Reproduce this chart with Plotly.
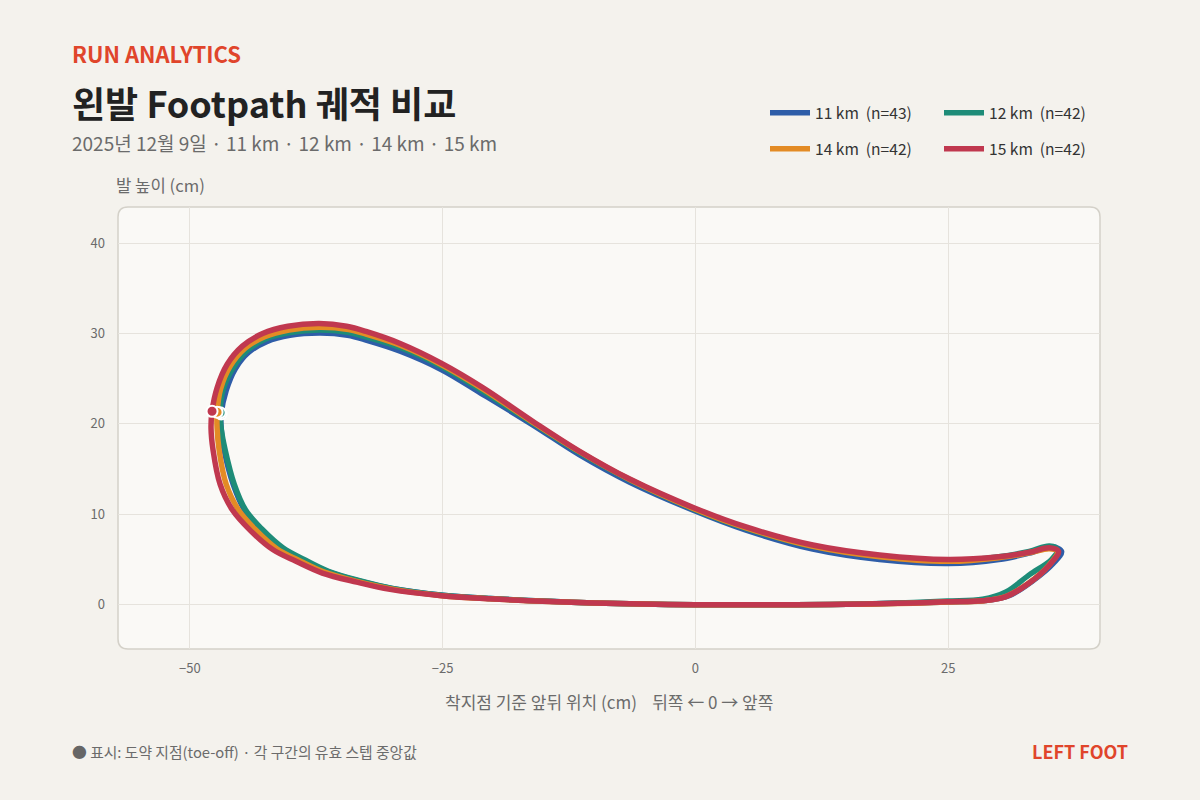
import plotly.graph_objects as go

# ---- data (cm) ----
labels = ["11 km", "12 km", "14 km", "15 km"]
counts = [43, 42, 42, 42]
colors = ["#2E5DA8", "#1E8C78", "#E38B25", "#C0384F"]

x_11 = [-46.9, -46.4, -45.5, -44.2, -42.4, -40.1, -37.1, -34.4, -32.5, -29.2, -25.1,
        -21.0, -16.1, -11.5, -6.5, -0.1, 5.0, 11.6, 18.2, 25.0, 30.0, 33.0, 35.3, 36.2,
        35.4, 33.3, 31.0, 28.6, 25.0, 20.0, 15.0, 10.0, 0.0, -10.0, -20.3, -25.0,
        -30.0, -33.2, -36.3, -38.8, -40.9, -43.0, -44.6, -45.7, -46.6, -46.9, -46.9]
y_11 = [21.1, 23.7, 26.1, 27.9, 29.1, 29.8, 30.05, 29.8, 29.25, 28.05, 26.0,
        23.25, 19.9, 16.6, 13.55, 10.4, 8.25, 6.15, 5.0, 4.55, 5.0, 5.7, 6.4, 5.9,
        4.6, 2.6, 1.0, 0.45, 0.3, 0.15, 0.05, 0.0, 0.0, 0.2, 0.68, 1.05,
        1.8, 2.6, 3.65, 4.95, 6.25, 8.35, 10.5, 13.3, 17.1, 19.5, 21.1]

x_12 = [-47.0, -46.7, -45.7, -44.35, -42.5, -40.1, -37.2, -34.4, -32.5, -29.2, -25.1,
        -21.0, -16.1, -11.5, -6.5, -0.1, 5.0, 11.6, 18.2, 25.0, 30.0, 33.0, 35.0, 35.8,
        35.2, 33.0, 30.7, 28.4, 24.9, 20.0, 15.0, 10.0, 0.0, -10.0, -20.3, -25.0,
        -30.0, -33.2, -36.3, -38.7, -40.8, -42.9, -44.5, -45.6, -46.5, -46.9, -47.0]
y_12 = [21.25, 23.8, 26.25, 28.1, 29.4, 30.1, 30.4, 30.15, 29.6, 28.45, 26.35,
        23.6, 20.1, 16.85, 13.8, 10.55, 8.45, 6.45, 5.35, 4.85, 5.3, 5.9, 6.5, 6.1,
        5.0, 3.3, 1.4, 0.6, 0.4, 0.2, 0.05, 0.0, 0.0, 0.2, 0.68, 1.05,
        1.8, 2.65, 3.7, 5.0, 6.3, 8.4, 10.5, 13.3, 17.1, 19.5, 21.25]

x_14 = [-47.3, -46.95, -46.0, -44.55, -42.6, -40.2, -37.2, -34.3, -32.5, -29.2, -25.1,
        -21.0, -16.1, -11.5, -6.5, -0.1, 5.0, 11.6, 18.2, 25.0, 30.0, 33.0, 35.0, 35.8,
        34.9, 32.9, 30.6, 28.3, 24.9, 20.0, 15.0, 10.0, 0.0, -10.0, -20.4, -25.1,
        -30.1, -33.4, -36.7, -39.2, -41.4, -43.5, -45.2, -46.4, -47.1, -47.3, -47.3]
y_14 = [21.3, 23.9, 26.4, 28.35, 29.65, 30.4, 30.7, 30.45, 29.9, 28.7, 26.55,
        23.85, 20.2, 16.95, 13.85, 10.6, 8.5, 6.45, 5.3, 4.8, 5.2, 5.75, 6.2, 5.9,
        4.3, 2.35, 0.88, 0.42, 0.3, 0.12, 0.04, 0.0, 0.0, 0.2, 0.66, 1.0,
        1.75, 2.55, 3.6, 4.9, 6.2, 8.3, 10.5, 13.3, 17.1, 19.5, 21.3]

x_15 = [-47.8, -47.3, -46.3, -44.8, -42.8, -40.3, -37.2, -34.5, -32.5, -29.2, -25.1,
        -21.0, -16.1, -11.5, -6.5, -0.1, 5.0, 11.6, 18.2, 25.0, 30.0, 33.0, 35.0, 35.9,
        35.0, 33.0, 30.7, 28.4, 24.9, 20.0, 15.0, 10.0, 0.0, -10.0, -20.4, -25.1,
        -30.2, -33.5, -36.9, -39.5, -41.8, -44.0, -45.8, -47.0, -47.7, -47.9, -47.8]
y_15 = [21.4, 24.0, 26.6, 28.6, 30.0, 30.8, 31.1, 30.8, 30.2, 28.9, 26.7,
        24.0, 20.3, 17.0, 13.9, 10.7, 8.6, 6.6, 5.5, 5.0, 5.3, 5.8, 6.3, 5.9,
        4.4, 2.4, 0.9, 0.44, 0.33, 0.15, 0.05, 0.0, 0.0, 0.2, 0.66, 1.0,
        1.7, 2.5, 3.5, 4.8, 6.1, 8.2, 10.5, 13.3, 17.1, 19.5, 21.4]

xs = [x_11, x_12, x_14, x_15]
ys = [y_11, y_12, y_14, y_15]

# ---- layout helpers (pixel -> paper) ----
W, H = 1200, 800
L, R, T, B = 118, 100, 207, 151
PW, PH = W - L - R, H - T - B


def px(x):
    return (x - L) / PW


def py(y):
    return 1 - (y - T) / PH


FONT = "Noto Sans CJK KR, Noto Sans, sans-serif"
BG = "#F4F2ED"
PLOT_BG = "#FAF9F6"
GRID = "#E6E3DD"
RED = "#E0452B"

fig = go.Figure()

for i in range(4):
    fig.add_trace(go.Scatter(
        x=xs[i], y=ys[i], mode="lines",
        line=dict(color=colors[i], width=5.5, shape="spline", smoothing=1.0),
        name=f"{labels[i]}\u00a0\u00a0(n={counts[i]})",
        legend="legend" if i < 2 else "legend2",
        hoverinfo="skip",
    ))

# toe-off markers (first sample of each path)
for i in range(4):
    fig.add_trace(go.Scatter(
        x=[xs[i][0]], y=[ys[i][0]], mode="markers",
        marker=dict(color=colors[i], size=11, line=dict(color="white", width=2)),
        showlegend=False, hoverinfo="skip",
    ))

# rounded plot frame
rx, ry = 10 / PW, 10 / PH
path = (f"M {rx},0 L {1-rx},0 Q 1,0 1,{ry} L 1,{1-ry} Q 1,1 {1-rx},1 "
        f"L {rx},1 Q 0,1 0,{1-ry} L 0,{ry} Q 0,0 {rx},0 Z")
fig.add_shape(type="path", path=path, xref="paper", yref="paper",
              fillcolor=PLOT_BG, line=dict(color="#D4D1C9", width=1.5), layer="below")

ann = [
    dict(x=px(70), y=py(53), text="RUN ANALYTICS", xanchor="left",
         font=dict(size=22, color=RED, weight=700)),
    dict(x=px(70), y=py(102), text="왼발 Footpath 궤적 비교", xanchor="left",
         font=dict(size=36, color="#222222", weight=700)),
    dict(x=px(70), y=py(142), text="2025년 12월 9일 · 11 km · 12 km · 14 km · 15 km",
         xanchor="left", font=dict(size=19, color="#6B6B6B")),
    dict(x=px(114), y=py(185), text="발 높이 (cm)", xanchor="left",
         font=dict(size=16.7, color="#6B6B6B")),
    dict(x=0.5, y=py(701),
         text="착지점 기준 앞뒤 위치 (cm)\u00a0\u00a0\u00a0\u00a0뒤쪽 ← 0 → 앞쪽",
         xanchor="center", font=dict(size=17, color="#6B6B6B")),
    dict(x=px(70), y=py(751),
         text="<span style='color:#666666'>●</span> 표시: 도약 지점(toe-off) · 각 구간의 유효 스텝 중앙값",
         xanchor="left", font=dict(size=14.8, color="#6B6B6B")),
    dict(x=px(1130), y=py(751), text="LEFT FOOT", xanchor="right",
         font=dict(size=18, color=RED, weight=700)),
]
for a in ann:
    a.update(xref="paper", yref="paper", yanchor="middle", showarrow=False)
    fig.add_annotation(**a)

legend_common = dict(
    orientation="h", xanchor="left", yanchor="middle",
    itemwidth=40, entrywidth=119, entrywidthmode="pixels",
    bgcolor="rgba(0,0,0,0)", font=dict(size=15.6, color="#333333", family=FONT),
    itemclick=False, itemdoubleclick=False,
)

fig.update_layout(
    width=W, height=H,
    margin=dict(l=L, r=R, t=T, b=B, autoexpand=False),
    paper_bgcolor=BG, plot_bgcolor="rgba(0,0,0,0)",
    font=dict(family=FONT, color="#6B6B6B"),
    legend=dict(x=px(765), y=py(113), **legend_common),
    legend2=dict(x=px(765), y=py(149), **legend_common),
    xaxis=dict(range=[-57.1, 40.0], tickvals=[-50, -25, 0, 25], showgrid=True,
               gridcolor=GRID, gridwidth=1, zeroline=False, showline=False,
               ticks="", ticklabelstandoff=10,
               tickfont=dict(size=13, color="#6B6B6B")),
    yaxis=dict(range=[-4.9, 44.0], tickvals=[0, 10, 20, 30, 40], showgrid=True,
               gridcolor=GRID, gridwidth=1, zeroline=False, showline=False,
               ticks="", ticklabelstandoff=12,
               tickfont=dict(size=13, color="#6B6B6B")),
    showlegend=True,
)

fig.write_html("out.html", config={"displayModeBar": False},
               post_script="document.body.style.margin='0';")
